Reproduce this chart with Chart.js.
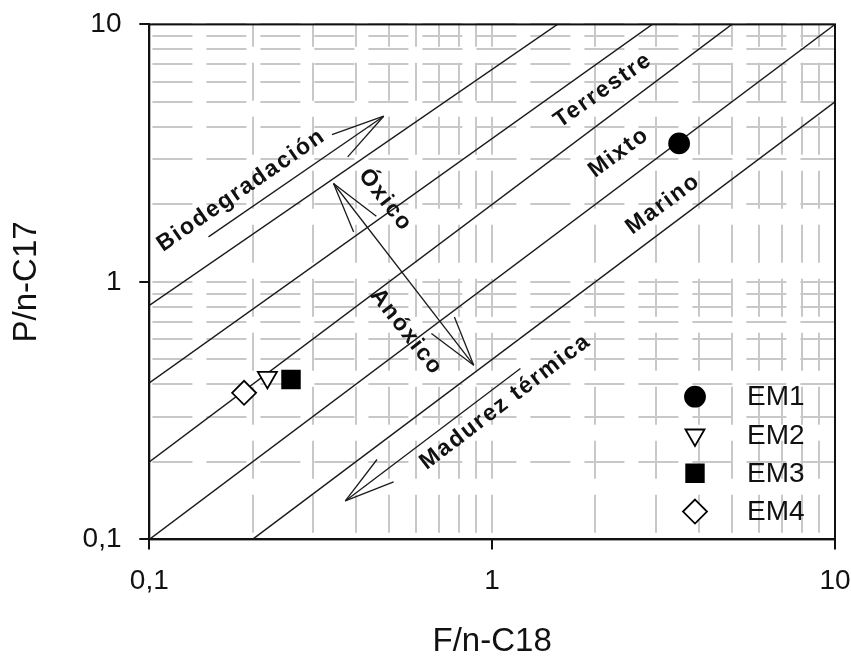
<!DOCTYPE html>
<html>
<head>
<meta charset="utf-8">
<script src="https://cdn.jsdelivr.net/npm/chart.js@4/dist/chart.umd.min.js"></script>
<style>
  html, body { margin: 0; padding: 0; background: #fff; }
  #wrap { width: 851px; height: 657px; }
</style>
</head>
<body>
<div id="wrap"><canvas id="c" width="851" height="657"></canvas></div>
<script>
// ---- Data ----
const seriesNames = ['EM1', 'EM2', 'EM3', 'EM4'];
const seriesX = [3.51, 0.221, 0.259, 0.189];   // F/n-C18
const seriesY = [3.45, 0.426, 0.418, 0.371];   // P/n-C17

// Boundary lines (start / end points, data units)
const lineStartX = [0.1, 0.1, 0.1, 0.1, 0.2];
const lineStartY = [0.81, 0.405, 0.2, 0.1, 0.1];
const lineEndX   = [1.55, 2.93, 5, 10, 10];
const lineEndY   = [10, 10, 10, 10, 5];

// Axis ticks
const majorTicks = [0.1, 1, 10];
const tickLabels = ['0,1', '1', '10'];
const gridValues = [0.1,0.2,0.3,0.4,0.5,0.6,0.7,0.8,0.9,1,2,3,4,5,6,7,8,9,10];

// Annotation texts (centre in data units, angle in degrees)
const noteTexts = ['Biodegradación', 'Óxico', 'Anóxico', 'Terrestre', 'Mixto', 'Marino', 'Madurez térmica'];
const noteX = [0.1854, 0.488, 0.562, 2.106, 2.342, 3.153, 1.093];
const noteY = [2.27, 2.076, 0.639, 5.553, 3.176, 2.003, 0.342];
const noteAngle = [-34.6, 52, 52, -35, -36.5, -36.5, -37.4];

// Arrows: shaft from tail to tip, open heads (two barbs) at tip (and tail if double)
const arrowTail = [[0.1488, 1.496], [0.8836, 0.4748], [1.209, 0.461]];
const arrowTip  = [[0.4826, 4.40], [0.3446, 2.411], [0.373, 0.1411]];
const arrowTipBarbs = [[[0.341, 3.735], [0.379, 3.058]], [[0.4594, 1.799], [0.3944, 1.564]], [[0.4615, 0.2043], [0.516, 0.1672]]];
const arrowTailBarbs = [null, [[0.776, 0.731], [0.665, 0.630]], null];

const FONT = "'Liberation Sans', Arial, Helvetica, sans-serif";
const pointStyles = ['circle', 'triangle', 'rect', 'rectRot'];
const pointFill = ['#000', '#fff', '#000', '#fff'];
const pointRot = [0, 180, 0, 0];
const pointRad = [10, 11, 12.5, 12];

const isMajor = v => majorTicks.some(m => Math.abs(m - v) < 1e-9);

const datasets = [];
seriesNames.forEach((n, i) => {
  datasets.push({
    label: n,
    data: [{x: seriesX[i], y: seriesY[i]}],
    pointStyle: pointStyles[i],
    pointRotation: pointRot[i],
    pointRadius: pointRad[i],
    pointBackgroundColor: pointFill[i],
    pointBorderColor: '#000',
    pointBorderWidth: 1.8,
    showLine: false,
    order: 0
  });
});
lineStartX.forEach((x0, i) => {
  datasets.push({
    label: 'line' + i,
    data: [{x: x0, y: lineStartY[i]}, {x: lineEndX[i], y: lineEndY[i]}],
    showLine: true,
    borderColor: '#1a1a1a',
    borderWidth: 1.4,
    pointRadius: 0,
    fill: false,
    order: 1
  });
});

const overlay = {
  id: 'overlay',
  afterDatasetsDraw(chart) {
    const ctx = chart.ctx;
    const xs = chart.scales.x, ys = chart.scales.y;
    const P = (p) => [xs.getPixelForValue(p[0]), ys.getPixelForValue(p[1])];
    const a = chart.chartArea;

    // frame box
    ctx.save();
    ctx.strokeStyle = '#111';
    ctx.lineWidth = 2;
    ctx.strokeRect(a.left, a.top, a.right - a.left, a.bottom - a.top);
    ctx.restore();

    // arrows
    ctx.save();
    ctx.strokeStyle = '#1a1a1a';
    ctx.lineWidth = 1.3;
    arrowTail.forEach((t, i) => {
      const p0 = P(t), p1 = P(arrowTip[i]);
      ctx.beginPath(); ctx.moveTo(p0[0], p0[1]); ctx.lineTo(p1[0], p1[1]); ctx.stroke();
      arrowTipBarbs[i].forEach(b => {
        const pb = P(b);
        ctx.beginPath(); ctx.moveTo(p1[0], p1[1]); ctx.lineTo(pb[0], pb[1]); ctx.stroke();
      });
      if (arrowTailBarbs[i]) {
        arrowTailBarbs[i].forEach(b => {
          const pb = P(b);
          ctx.beginPath(); ctx.moveTo(p0[0], p0[1]); ctx.lineTo(pb[0], pb[1]); ctx.stroke();
        });
      }
    });
    ctx.restore();

    // rotated labels
    ctx.save();
    ctx.fillStyle = '#111';
    ctx.font = 'bold 23px ' + FONT;
    ctx.textAlign = 'center';
    ctx.textBaseline = 'middle';
    try { ctx.letterSpacing = '1.8px'; } catch (e) {}
    noteTexts.forEach((t, i) => {
      const p = P([noteX[i], noteY[i]]);
      ctx.save();
      ctx.translate(p[0], p[1]);
      ctx.rotate(noteAngle[i] * Math.PI / 180);
      ctx.fillText(t, 0, 0);
      ctx.restore();
    });
    ctx.restore();

    // legend
    ctx.save();
    const mx = a.right - 140, tx = a.right - 88;
    seriesNames.forEach((n, i) => {
      const y = a.bottom - 142.7 + i * 38.3;
      ctx.fillStyle = pointFill[i];
      ctx.strokeStyle = '#000';
      ctx.lineWidth = 1.8;
      ctx.beginPath();
      if (i === 0) {
        ctx.arc(mx, y, 10, 0, Math.PI * 2);
      } else if (i === 1) {
        const r = 11;
        ctx.moveTo(mx, y + r);
        ctx.lineTo(mx - r * Math.sin(Math.PI / 3), y - r / 2);
        ctx.lineTo(mx + r * Math.sin(Math.PI / 3), y - r / 2);
        ctx.closePath();
      } else if (i === 2) {
        const s = 8.8;
        ctx.rect(mx - s, y - s, 2 * s, 2 * s);
      } else {
        const r = 12;
        ctx.moveTo(mx, y - r); ctx.lineTo(mx + r, y); ctx.lineTo(mx, y + r); ctx.lineTo(mx - r, y);
        ctx.closePath();
      }
      ctx.fill(); ctx.stroke();
      ctx.fillStyle = '#111';
      ctx.font = '28px ' + FONT;
      ctx.textAlign = 'left';
      ctx.textBaseline = 'middle';
      ctx.fillText(n, tx, y + 1);
    });
    ctx.restore();
  }
};

const tickLabel = (v) => {
  const i = majorTicks.findIndex(m => Math.abs(m - v) < 1e-9);
  return i >= 0 ? tickLabels[i] : '';
};
const setTicks = (scale) => {
  scale.ticks = gridValues.map(v => ({value: v, major: isMajor(v)}));
};

new Chart(document.getElementById('c'), {
  type: 'scatter',
  data: { datasets },
  options: {
    responsive: false,
    animation: false,
    devicePixelRatio: 1,
    layout: { padding: { top: 24.4, right: 16, left: 0, bottom: 0 } },
    plugins: { legend: { display: false }, tooltip: { enabled: false } },
    scales: {
      x: {
        type: 'logarithmic', min: 0.1, max: 10, position: 'bottom',
        afterBuildTicks: setTicks,
        afterFit: (s) => { s.height = 117.6; s.paddingLeft = 0; s.paddingRight = 0; },
        grid: {
          color: '#c8c8c8', lineWidth: 2, drawTicks: true, tickLength: 10,
          tickColor: (c) => (c.tick && isMajor(c.tick.value)) ? '#111' : 'rgba(0,0,0,0)',
          tickWidth: 2, tickBorderDash: []
        },
        border: { display: true, color: '#111', width: 2, dash: [38, 16], dashOffset: 15.6 },
        ticks: {
          autoSkip: false, maxRotation: 0, padding: 14.8,
          color: '#111', font: { family: FONT, size: 28 },
          callback: (v) => tickLabel(v)
        },
        title: {
          display: true, text: 'F/n-C18', color: '#111',
          font: { family: FONT, size: 33, lineHeight: 1 },
          padding: { top: 0, bottom: -1.5 }
        }
      },
      y: {
        type: 'logarithmic', min: 0.1, max: 10, position: 'left',
        afterBuildTicks: setTicks,
        afterFit: (s) => { s.width = 149.3; s.paddingTop = 0; s.paddingBottom = 0; },
        grid: {
          color: '#c8c8c8', lineWidth: 2, drawTicks: true, tickLength: 10,
          tickColor: (c) => (c.tick && isMajor(c.tick.value)) ? '#111' : 'rgba(0,0,0,0)',
          tickWidth: 2, tickBorderDash: []
        },
        border: { display: true, color: '#111', width: 2, dash: [40, 14], dashOffset: 51.6 },
        ticks: {
          autoSkip: false, padding: 17.8,
          color: '#111', font: { family: FONT, size: 28 },
          callback: (v) => tickLabel(v)
        },
        title: {
          display: true, text: 'P/n-C17', color: '#111',
          font: { family: FONT, size: 33, lineHeight: 1 },
          padding: { top: 10, bottom: 0 }
        }
      }
    }
  },
  plugins: [overlay]
});
</script>
</body>
</html>
